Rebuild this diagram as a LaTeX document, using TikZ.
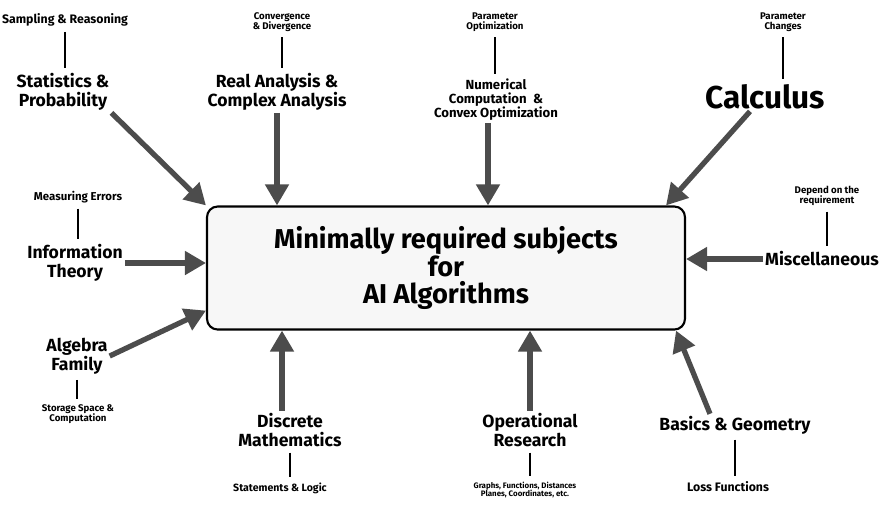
\documentclass[tikz,border=0pt]{standalone}
\usepackage{fontspec}
\setmainfont{Fira Sans}
\usetikzlibrary{arrows.meta}
\tikzstyle{fatarrow} = [-{Triangle[width=13pt,length=12pt]},line width=3pt,draw=black!70]
\tikzstyle{tie} = [line width=1pt,shorten <=2pt,shorten >=2pt]
\tikzstyle{topic} = [align=center,font=\bfseries\fontsize{10}{11}\selectfont,inner sep=1pt]
\tikzstyle{note} = [align=center,font=\bfseries\fontsize{5.5}{6}\selectfont,inner sep=1pt]

\begin{document}
\begin{tikzpicture}[x=0.02cm,y=-0.02cm]
          \useasboundingbox (0,0) rectangle (885,505);

          \node[draw,line width=1.2pt,rounded corners=6pt,fill=black!3,
                minimum width=9.56cm,minimum height=2.46cm,align=center,
                font=\bfseries\fontsize{15.5}{15.5}\selectfont] (box) at (446,268)
                {Minimally required subjects\\for\\AI Algorithms};

          \node[topic] (stat) at (63,92) {Statistics \&\\Probability};
          \node[topic] (real) at (277,92) {Real Analysis \&\\Complex Analysis};
          \node[topic,font=\bfseries\fontsize{7.5}{8}\selectfont] (num) at (496,100) {Numerical\\Computation \ \&\\Convex Optimization};
          \node[topic,font=\bfseries\fontsize{18}{20}\selectfont] (calc) at (765,97) {Calculus};
          \node[topic] (info) at (75,263) {Information\\Theory};
          \node[topic] (misc) at (822,259) {Miscellaneous};
          \node[topic] (alg) at (77,356) {Algebra\\Family};
          \node[topic] (disc) at (290,430) {Discrete\\Mathematics};
          \node[topic] (oper) at (530,430) {Operational\\Research};
          \node[topic] (basic) at (735,425) {Basics \& Geometry};

          \node[note,font=\bfseries\fontsize{7}{8}\selectfont] (samp) at (65,20) {Sampling \& Reasoning};
          \node[note] (conv) at (282,22) {Convergence\\\& Divergence};
          \node[note] (popt) at (495,22) {Parameter\\Optimization};
          \node[note] (pchg) at (783,22) {Parameter\\Changes};
          \node[note,font=\bfseries\fontsize{6.5}{7}\selectfont] (err) at (78,197) {Measuring Errors};
          \node[note] (dep) at (827,196) {Depend on the\\requirement};
          \node[note] (stor) at (78,414) {Storage Space \&\\Computation};
          \node[note,font=\bfseries\fontsize{6}{7}\selectfont] (logic) at (280,488) {Statements \& Logic};
          \node[note,font=\bfseries\fontsize{4.5}{5}\selectfont] (graph) at (525,490) {Graphs, Functions, Distances\\Planes, Coordinates, etc.};
          \node[note,font=\bfseries\fontsize{7}{8}\selectfont] (loss) at (728,487) {Loss Functions};

          \draw[tie] (samp.south) -- (samp.south |- stat.north);
          \draw[tie] (conv.south) -- (conv.south |- real.north);
          \draw[tie] (popt.south) -- (popt.south |- num.north);
          \draw[tie] (pchg.south) -- (pchg.south |- calc.north);
          \draw[tie] (err.south) -- (err.south |- info.north);
          \draw[tie] (dep.south) -- (dep.south |- misc.north);
          \draw[tie] (alg.south) -- (alg.south |- stor.north);
          \draw[tie] (disc.south) -- (disc.south |- logic.north);
          \draw[tie] (oper.south) -- (oper.south |- graph.north);
          \draw[tie] (basic.south) -- (basic.south |- loss.north);

          \draw[fatarrow] (stat.south east) -- (box.north west);
          \draw[fatarrow] (real.south) -- (real.south |- box.north);
          \draw[fatarrow] ([xshift=-0.16cm]num.south) -- ([xshift=-0.16cm]num.south |- box.north);
          \draw[fatarrow] ([xshift=-0.3cm]calc.south) -- ([xshift=-0.4cm]box.north east);
          \draw[fatarrow] (info.east) -- (info.east -| box.west);
          \draw[fatarrow] (misc.west) -- (misc.west -| box.east);
          \draw[fatarrow] (alg.east) -- ([yshift=0.4cm]box.south west);
          \draw[fatarrow] ([xshift=-0.16cm]disc.north) -- ([xshift=-0.16cm]disc.north |- box.south);
          \draw[fatarrow] (oper.north) -- (oper.north |- box.south);
          \draw[fatarrow] ([xshift=-0.5cm]basic.north) -- ([xshift=-0.2cm]box.south east);
        \end{tikzpicture}
\end{document}
